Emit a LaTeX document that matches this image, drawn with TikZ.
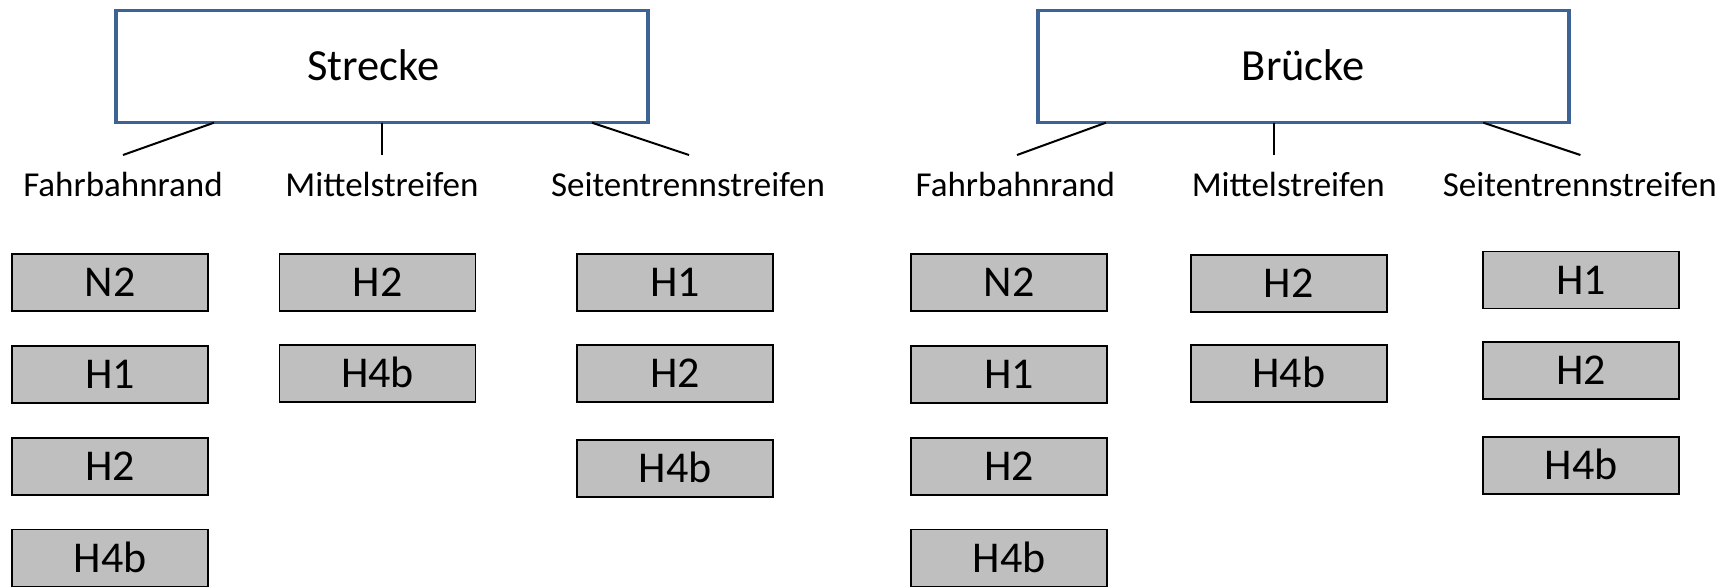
\documentclass[tikz,border=0pt]{standalone}
\usepackage{fontspec}
\setmainfont{Carlito}
\definecolor{boxblue}{HTML}{3D6294}
\definecolor{boxgray}{HTML}{BFBFBF}
\tikzset{
  bluebox/.style={draw=boxblue, line width=3.5pt, fill=white, minimum width=532pt, minimum height=112pt, inner sep=0pt,
    font=\fontsize{44.5}{52}\selectfont, text height=28.5pt, text depth=0pt},
  gbox/.style={draw=black, line width=1.8pt, fill=boxgray, minimum width=196pt, minimum height=57pt, inner sep=0pt,
    font=\fontsize{44}{52}\selectfont, text height=28pt, text depth=0pt},
  lbl/.style={anchor=base, inner sep=0pt, font=\fontsize{35}{42}\selectfont},
  conn/.style={draw=black, line width=2pt}
}
\begin{document}
\begin{tikzpicture}[x=1pt,y=-1pt]
\useasboundingbox (0,0) rectangle (1730,587);
% left tree
\node[bluebox] (sbox) at (382,66.7) {Strecke\hspace*{17pt}};
\node[lbl] (sl1) at (123,196.7) {Fahrbahnrand};
\node[lbl] (sl2) at (382,196.7) {Mittelstreifen};
\node[lbl] (sl3) at (688,196.7) {Seitentrennstreifen};
\coordinate (sa1) at (214,122.7); \coordinate (sb1) at (123,155);
\coordinate (sa2) at (381.7,122.7); \coordinate (sb2) at (381.7,155);
\coordinate (sa3) at (592,122.7); \coordinate (sb3) at (689,155);
\draw[conn] (sa1) -- (sb1);
\draw[conn] (sa2) -- (sb2);
\draw[conn] (sa3) -- (sb3);
\node[gbox] (s11) at (110.3,282.5) {N2};
\node[gbox] (s12) at (110.3,374.5) {H1};
\node[gbox] (s13) at (110.3,466.7) {H2};
\node[gbox] (s14) at (110.3,558) {H4b};
\node[gbox] (s21) at (377.5,282.5) {H2};
\node[gbox] (s22) at (377.5,373.5) {H4b};
\node[gbox] (s31) at (675,282.5) {H1};
\node[gbox] (s32) at (675,373.5) {H2};
\node[gbox] (s33) at (675,468.5) {H4b};
% right tree
\node[bluebox, minimum width=531pt] (bbox) at (1303.3,66.7) {Brücke};
\node[lbl] (bl1) at (1015.4,196.7) {Fahrbahnrand};
\node[lbl] (bl2) at (1288.3,196.7) {Mittelstreifen};
\node[lbl] (bl3) at (1579.8,196.7) {Seitentrennstreifen};
\coordinate (ba1) at (1105.9,122.7); \coordinate (bb1) at (1017,155);
\coordinate (ba2) at (1274.3,122.7); \coordinate (bb2) at (1274.3,155);
\coordinate (ba3) at (1483.3,122.7); \coordinate (bb3) at (1580.4,155);
\draw[conn] (ba1) -- (bb1);
\draw[conn] (ba2) -- (bb2);
\draw[conn] (ba3) -- (bb3);
\node[gbox] (b11) at (1009,282.5) {N2};
\node[gbox] (b12) at (1009,374.5) {H1};
\node[gbox] (b13) at (1009,466.7) {H2};
\node[gbox] (b14) at (1009,558) {H4b};
\node[gbox] (b21) at (1288.8,283.2) {H2};
\node[gbox] (b22) at (1288.8,373.5) {H4b};
\node[gbox] (b31) at (1581.2,280) {H1};
\node[gbox] (b32) at (1581.2,370.5) {H2};
\node[gbox] (b33) at (1581.2,465.5) {H4b};
\end{tikzpicture}
\end{document}
